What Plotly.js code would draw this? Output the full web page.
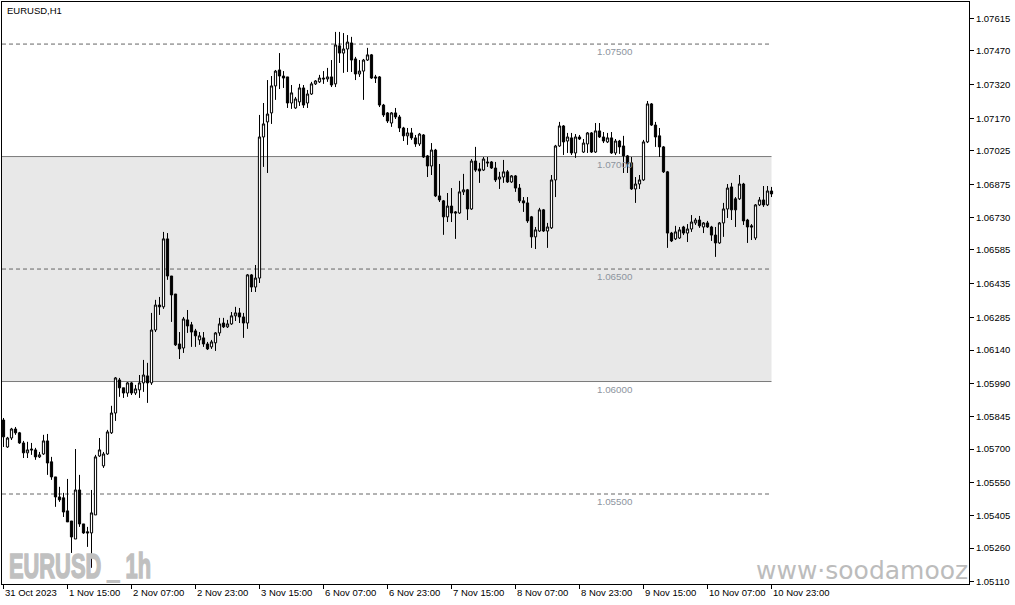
<!DOCTYPE html>
<html>
<head>
<meta charset="utf-8">
<title>EURUSD,H1</title>
<script src="https://cdn.plot.ly/plotly-3.0.1.min.js"></script>
<style>
body { margin: 0; padding: 0; background: #ffffff; }
#tgtDraw { width: 1015px; height: 605px; }
</style>
</head>
<body>
<div id="tgtDraw"></div>
<script>
// EURUSD H1 candles, 31 Oct 2023 23:00 -> 10 Nov 2023 23:00 (one bar per hour, weekend skipped)

var bar_open = [
1.05829,1.05709,1.05749,1.05789,1.05772,1.05727,1.05683,1.05700,1.05696,1.05665,
1.05678,1.05736,1.05643,1.05576,1.05487,1.05483,1.05425,1.05380,1.05300,1.05518,
1.05367,1.05332,1.05327,1.05407,1.05669,1.05625,1.05678,1.05772,1.05860,1.06007,
1.05972,1.05949,1.05994,1.05949,1.05963,1.05994,1.06025,1.05994,1.06229,1.06340,
1.06332,1.06634,1.06469,1.06389,1.06167,1.06149,1.06274,1.06252,1.06225,1.06185,
1.06194,1.06167,1.06154,1.06172,1.06216,1.06260,1.06243,1.06256,1.06292,1.06305,
1.06287,1.06260,1.06474,1.06420,1.06460,1.07087,1.07154,1.07194,1.07314,1.07385,
1.07358,1.07354,1.07238,1.07216,1.07243,1.07305,1.07238,1.07278,1.07323,1.07332,
1.07349,1.07345,1.07354,1.07323,1.07492,1.07460,1.07478,1.07505,1.07434,1.07367,
1.07380,1.07429,1.07452,1.07354,1.07354,1.07229,1.07194,1.07149,1.07194,1.07176,
1.07127,1.07092,1.07105,1.07083,1.07056,1.07096,1.07003,1.06958,1.07029,1.06825,
1.06803,1.06732,1.06780,1.06754,1.06749,1.06843,1.06852,1.06767,1.06980,1.06945,
1.06940,1.06976,1.06976,1.06949,1.06900,1.06909,1.06932,1.06887,1.06914,1.06860,
1.06803,1.06794,1.06732,1.06643,1.06669,1.06763,1.06669,1.06683,1.06896,1.07047,
1.07136,1.07069,1.07083,1.07016,1.07087,1.07020,1.07056,1.07105,1.07020,1.07114,
1.07087,1.07065,1.07083,1.07016,1.07069,1.07047,1.07003,1.06972,1.06856,1.06878,
1.06896,1.07065,1.07234,1.07140,1.07092,1.07043,1.06932,1.06660,1.06634,1.06638,
1.06687,1.06660,1.06678,1.06705,1.06718,1.06687,1.06705,1.06687,1.06651,1.06616,
1.06705,1.06767,1.06865,1.06812,1.06812,1.06878,1.06718,1.06692,1.06638,1.06785,
1.06807,1.06785,1.06847
];

var bar_high = [
1.05838,1.05754,1.05794,1.05798,1.05776,1.05736,1.05732,1.05727,1.05705,1.05687,
1.05763,1.05767,1.05665,1.05576,1.05532,1.05505,1.05567,1.05380,1.05700,1.05585,
1.05367,1.05354,1.05518,1.05674,1.05749,1.05687,1.05785,1.05892,1.06020,1.06016,
1.05972,1.05998,1.05998,1.05985,1.06029,1.06096,1.06083,1.06305,1.06363,1.06376,
1.06665,1.06660,1.06469,1.06389,1.06220,1.06287,1.06318,1.06265,1.06234,1.06220,
1.06220,1.06176,1.06185,1.06220,1.06283,1.06283,1.06274,1.06309,1.06332,1.06327,
1.06305,1.06478,1.06478,1.06518,1.07185,1.07238,1.07340,1.07358,1.07385,1.07460,
1.07380,1.07354,1.07318,1.07265,1.07323,1.07318,1.07296,1.07332,1.07340,1.07363,
1.07380,1.07394,1.07429,1.07554,1.07554,1.07549,1.07540,1.07532,1.07443,1.07429,
1.07434,1.07483,1.07456,1.07363,1.07358,1.07234,1.07198,1.07198,1.07216,1.07185,
1.07132,1.07127,1.07127,1.07096,1.07105,1.07100,1.07007,1.07060,1.07034,1.06967,
1.06807,1.06838,1.06860,1.06758,1.06892,1.06923,1.06856,1.06989,1.07043,1.06972,
1.06998,1.06998,1.06980,1.06976,1.06932,1.06985,1.06940,1.06918,1.06918,1.06878,
1.06820,1.06820,1.06736,1.06687,1.06772,1.06767,1.06705,1.06918,1.07052,1.07154,
1.07140,1.07105,1.07105,1.07100,1.07096,1.07078,1.07109,1.07109,1.07149,1.07149,
1.07109,1.07105,1.07109,1.07078,1.07074,1.07092,1.07007,1.06998,1.06909,1.06918,
1.07074,1.07247,1.07238,1.07154,1.07127,1.07047,1.06936,1.06665,1.06692,1.06687,
1.06692,1.06700,1.06740,1.06727,1.06736,1.06709,1.06714,1.06692,1.06687,1.06709,
1.06794,1.06878,1.06883,1.06820,1.06918,1.06883,1.06723,1.06700,1.06789,1.06820,
1.06869,1.06869,1.06865
];

var bar_low = [
1.05709,1.05705,1.05740,1.05763,1.05723,1.05660,1.05660,1.05674,1.05652,1.05660,
1.05674,1.05585,1.05563,1.05443,1.05465,1.05398,1.05376,1.05238,1.05300,1.05354,
1.05323,1.05265,1.05172,1.05407,1.05665,1.05616,1.05674,1.05767,1.05825,1.05932,
1.05927,1.05932,1.05940,1.05940,1.05927,1.05954,1.05905,1.05985,1.06220,1.06296,
1.06323,1.06452,1.06265,1.06158,1.06100,1.06127,1.06216,1.06154,1.06154,1.06163,
1.06154,1.06140,1.06145,1.06136,1.06203,1.06238,1.06238,1.06252,1.06269,1.06260,
1.06194,1.06234,1.06398,1.06398,1.06438,1.06954,1.06927,1.07145,1.07252,1.07300,
1.07305,1.07216,1.07212,1.07212,1.07225,1.07216,1.07216,1.07274,1.07318,1.07327,
1.07323,1.07332,1.07309,1.07309,1.07416,1.07372,1.07376,1.07376,1.07340,1.07354,
1.07252,1.07425,1.07345,1.07327,1.07220,1.07176,1.07149,1.07132,1.07167,1.07109,
1.07069,1.07052,1.07074,1.07043,1.07047,1.06994,1.06909,1.06918,1.06820,1.06798,
1.06652,1.06709,1.06709,1.06634,1.06745,1.06829,1.06718,1.06763,1.06932,1.06883,
1.06936,1.06954,1.06945,1.06887,1.06856,1.06883,1.06883,1.06883,1.06843,1.06794,
1.06754,1.06705,1.06594,1.06589,1.06665,1.06665,1.06594,1.06678,1.06820,1.07043,
1.07007,1.07016,1.07007,1.06994,1.07074,1.07016,1.07016,1.07016,1.07016,1.07083,
1.07060,1.07060,1.07012,1.07007,1.07012,1.06927,1.06927,1.06852,1.06794,1.06856,
1.06892,1.07060,1.07136,1.07043,1.06998,1.06927,1.06594,1.06620,1.06629,1.06634,
1.06651,1.06620,1.06665,1.06696,1.06683,1.06660,1.06683,1.06625,1.06554,1.06612,
1.06643,1.06727,1.06718,1.06687,1.06807,1.06696,1.06616,1.06629,1.06629,1.06780,
1.06776,1.06780,1.06820
];

var bar_close = [
1.05754,1.05749,1.05789,1.05772,1.05727,1.05683,1.05696,1.05696,1.05665,1.05674,
1.05736,1.05638,1.05576,1.05487,1.05474,1.05420,1.05376,1.05309,1.05518,1.05367,
1.05327,1.05327,1.05416,1.05665,1.05696,1.05678,1.05776,1.05860,1.06016,1.05972,
1.05949,1.05994,1.05949,1.05967,1.05994,1.06029,1.05994,1.06229,1.06340,1.06332,
1.06634,1.06469,1.06385,1.06163,1.06145,1.06278,1.06247,1.06220,1.06203,1.06203,
1.06167,1.06145,1.06176,1.06216,1.06256,1.06243,1.06256,1.06292,1.06305,1.06287,
1.06260,1.06474,1.06420,1.06460,1.07087,1.07145,1.07189,1.07314,1.07380,1.07358,
1.07349,1.07238,1.07283,1.07256,1.07305,1.07229,1.07278,1.07323,1.07336,1.07349,
1.07345,1.07354,1.07318,1.07496,1.07460,1.07478,1.07509,1.07429,1.07367,1.07380,
1.07429,1.07452,1.07349,1.07349,1.07229,1.07185,1.07158,1.07194,1.07176,1.07127,
1.07092,1.07105,1.07083,1.07056,1.07100,1.06998,1.06958,1.07029,1.06825,1.06807,
1.06732,1.06780,1.06749,1.06749,1.06843,1.06852,1.06767,1.06980,1.06940,1.06936,
1.06989,1.06972,1.06949,1.06896,1.06909,1.06932,1.06887,1.06914,1.06860,1.06803,
1.06794,1.06714,1.06643,1.06674,1.06763,1.06669,1.06687,1.06896,1.07047,1.07136,
1.07065,1.07087,1.07016,1.07087,1.07078,1.07060,1.07105,1.07020,1.07114,1.07087,
1.07069,1.07083,1.07016,1.07069,1.07043,1.07003,1.06967,1.06856,1.06878,1.06896,
1.07065,1.07234,1.07140,1.07087,1.07043,1.06932,1.06660,1.06625,1.06665,1.06674,
1.06660,1.06678,1.06709,1.06718,1.06692,1.06705,1.06687,1.06651,1.06616,1.06705,
1.06767,1.06860,1.06763,1.06763,1.06878,1.06714,1.06687,1.06687,1.06785,1.06807,
1.06785,1.06847,1.06834
];

// time scale labels (bar number -> text), every 16 bars
var time_ticks = [0, 16, 32, 48, 64, 80, 96, 112, 128, 144, 160, 176, 192];
var time_labels = ["31 Oct 2023", "1 Nov 15:00", "2 Nov 07:00", "2 Nov 23:00", "3 Nov 15:00",
	"6 Nov 07:00", "6 Nov 23:00", "7 Nov 15:00", "8 Nov 07:00", "8 Nov 23:00",
	"9 Nov 15:00", "10 Nov 07:00", "10 Nov 23:00"];

// price scale
var price_ticks = [1.07615, 1.07470, 1.07320, 1.07170, 1.07025, 1.06875, 1.06730, 1.06585, 1.06435,
	1.06285, 1.06140, 1.05990, 1.05845, 1.05700, 1.05550, 1.05405, 1.05260, 1.05110];

// horizontal levels drawn on the chart
var dash_levels = [1.07500, 1.06500, 1.05500];
var zone_levels = [1.06000, 1.07000];
var level_labels = ["1.07500", "1.07000", "1.06500", "1.06000", "1.05500"];
var level_values = [1.07500, 1.07000, 1.06500, 1.06000, 1.05500];

var x_range = [-0.375, 241.375];
var y_range = [1.05100, 1.07687];

var txt_font = 'Liberation Sans, Arial, sans-serif';

function squeeze_text(str, width)
{
	// the watermark font is a narrow heavy one, so press the text together sideways
	var els = document.querySelectorAll('#tgtDraw .annotation-text');
	for (var i = 0; i < els.length; i++) {
		if (els[i].textContent != str) continue;
		var bb = els[i].getBBox();
		if (!bb.width) continue;
		var sx = width / bb.width;
		var old = els[i].getAttribute('transform') || '';
		els[i].setAttribute('transform', old + ' translate(' + bb.x + ',0) scale(' + sx + ',1) translate(' + (-bb.x) + ',0)');
		els[i].style.stroke = '#c0c0c0';
		els[i].style.strokeWidth = '1.6px';
	}
}

function draw_chart()
{
	var bars = [];
	for (var i = 0; i < bar_open.length; i++) {
		bars.push(i);
	}
	var last_bar = bars[bars.length - 1];

	var trace = {
		type: 'candlestick',
		x: bars,
		open: bar_open,
		high: bar_high,
		low: bar_low,
		close: bar_close,
		increasing: {line: {color: '#000000', width: 1}, fillcolor: '#ffffff'},
		decreasing: {line: {color: '#000000', width: 1}, fillcolor: '#000000'},
		whiskerwidth: 0,
		hoverinfo: 'none',
		showlegend: false
	};

	var shapes = [];
	// grey zone between the two solid levels
	shapes.push({
		type: 'rect', xref: 'x', yref: 'y', layer: 'below',
		x0: x_range[0], x1: last_bar, y0: zone_levels[0], y1: zone_levels[1],
		fillcolor: '#e8e8e8', line: {width: 0}
	});
	for (var z = 0; z < zone_levels.length; z++) {
		shapes.push({
			type: 'line', xref: 'x', yref: 'y', layer: 'below',
			x0: x_range[0], x1: last_bar, y0: zone_levels[z], y1: zone_levels[z],
			line: {color: '#7a7a7a', width: 1}
		});
	}
	for (var d = 0; d < dash_levels.length; d++) {
		shapes.push({
			type: 'line', xref: 'x', yref: 'y', layer: 'below',
			x0: x_range[0], x1: last_bar, y0: dash_levels[d], y1: dash_levels[d],
			line: {color: '#666666', width: 1, dash: '4px,3px'}
		});
	}

	var notes = [];
	notes.push({
		xref: 'paper', yref: 'paper', x: 0, y: 1, xanchor: 'left', yanchor: 'top',
		xshift: 3, yshift: -1, showarrow: false, text: 'EURUSD,H1',
		font: {family: txt_font, size: 9.5, color: '#000000'}
	});
	for (var t = 0; t < time_ticks.length; t++) {
		notes.push({
			xref: 'x', yref: 'paper', x: time_ticks[t], y: 0, xanchor: 'left', yanchor: 'top',
			xshift: -1, yshift: -1, showarrow: false, text: time_labels[t],
			font: {family: txt_font, size: 9.5, color: '#000000'}
		});
	}
	for (var k = 0; k < level_labels.length; k++) {
		notes.push({
			xref: 'x', yref: 'y', x: 147.8, y: level_values[k], xanchor: 'left', yanchor: 'top',
			yshift: 0, showarrow: false, text: level_labels[k],
			font: {family: txt_font, size: 9.8, color: '#8d949e'}
		});
	}
	notes.push({
		xref: 'paper', yref: 'paper', x: 0, y: 0, xanchor: 'left', yanchor: 'bottom',
		xshift: 5, yshift: -4, showarrow: false, text: '<b>EURUSD _ 1h</b>',
		font: {family: txt_font, size: 36, color: '#c0c0c0'}
	});
	notes.push({
		xref: 'paper', yref: 'paper', x: 1, y: 0, xanchor: 'right', yanchor: 'bottom',
		xshift: 1, yshift: -3, showarrow: false, text: 'www·soodamooz',
		font: {family: 'DejaVu Sans, sans-serif', size: 25, color: '#bcbcbc'}
	});

	var layout = {
		width: 1015,
		height: 605,
		margin: {l: 2, r: 46, t: 2, b: 21, pad: 0},
		paper_bgcolor: '#ffffff',
		plot_bgcolor: '#ffffff',
		showlegend: false,
		boxgap: 0.45,
		boxgroupgap: 0,
		xaxis: {
			range: x_range,
			tickvals: time_ticks,
			showticklabels: false,
			ticks: 'outside', ticklen: 4, tickcolor: '#000000', tickwidth: 1,
			showgrid: false, zeroline: false,
			showline: true, mirror: true, linecolor: '#000000', linewidth: 1,
			rangeslider: {visible: false},
			fixedrange: true
		},
		yaxis: {
			range: y_range,
			side: 'right',
			tickvals: price_ticks,
			tickformat: '.5f',
			ticks: 'outside', ticklen: 4, tickcolor: '#000000', tickwidth: 1,
			tickfont: {family: txt_font, size: 9.5, color: '#000000'},
			showgrid: false, zeroline: false,
			showline: true, mirror: true, linecolor: '#000000', linewidth: 1,
			fixedrange: true
		},
		shapes: shapes,
		annotations: notes
	};

	Plotly.newPlot('tgtDraw', [trace], layout, {displayModeBar: false, staticPlot: true}).then(function () {
		squeeze_text('EURUSD _ 1h', 142);
	});
}

draw_chart();
</script>
</body>
</html>
